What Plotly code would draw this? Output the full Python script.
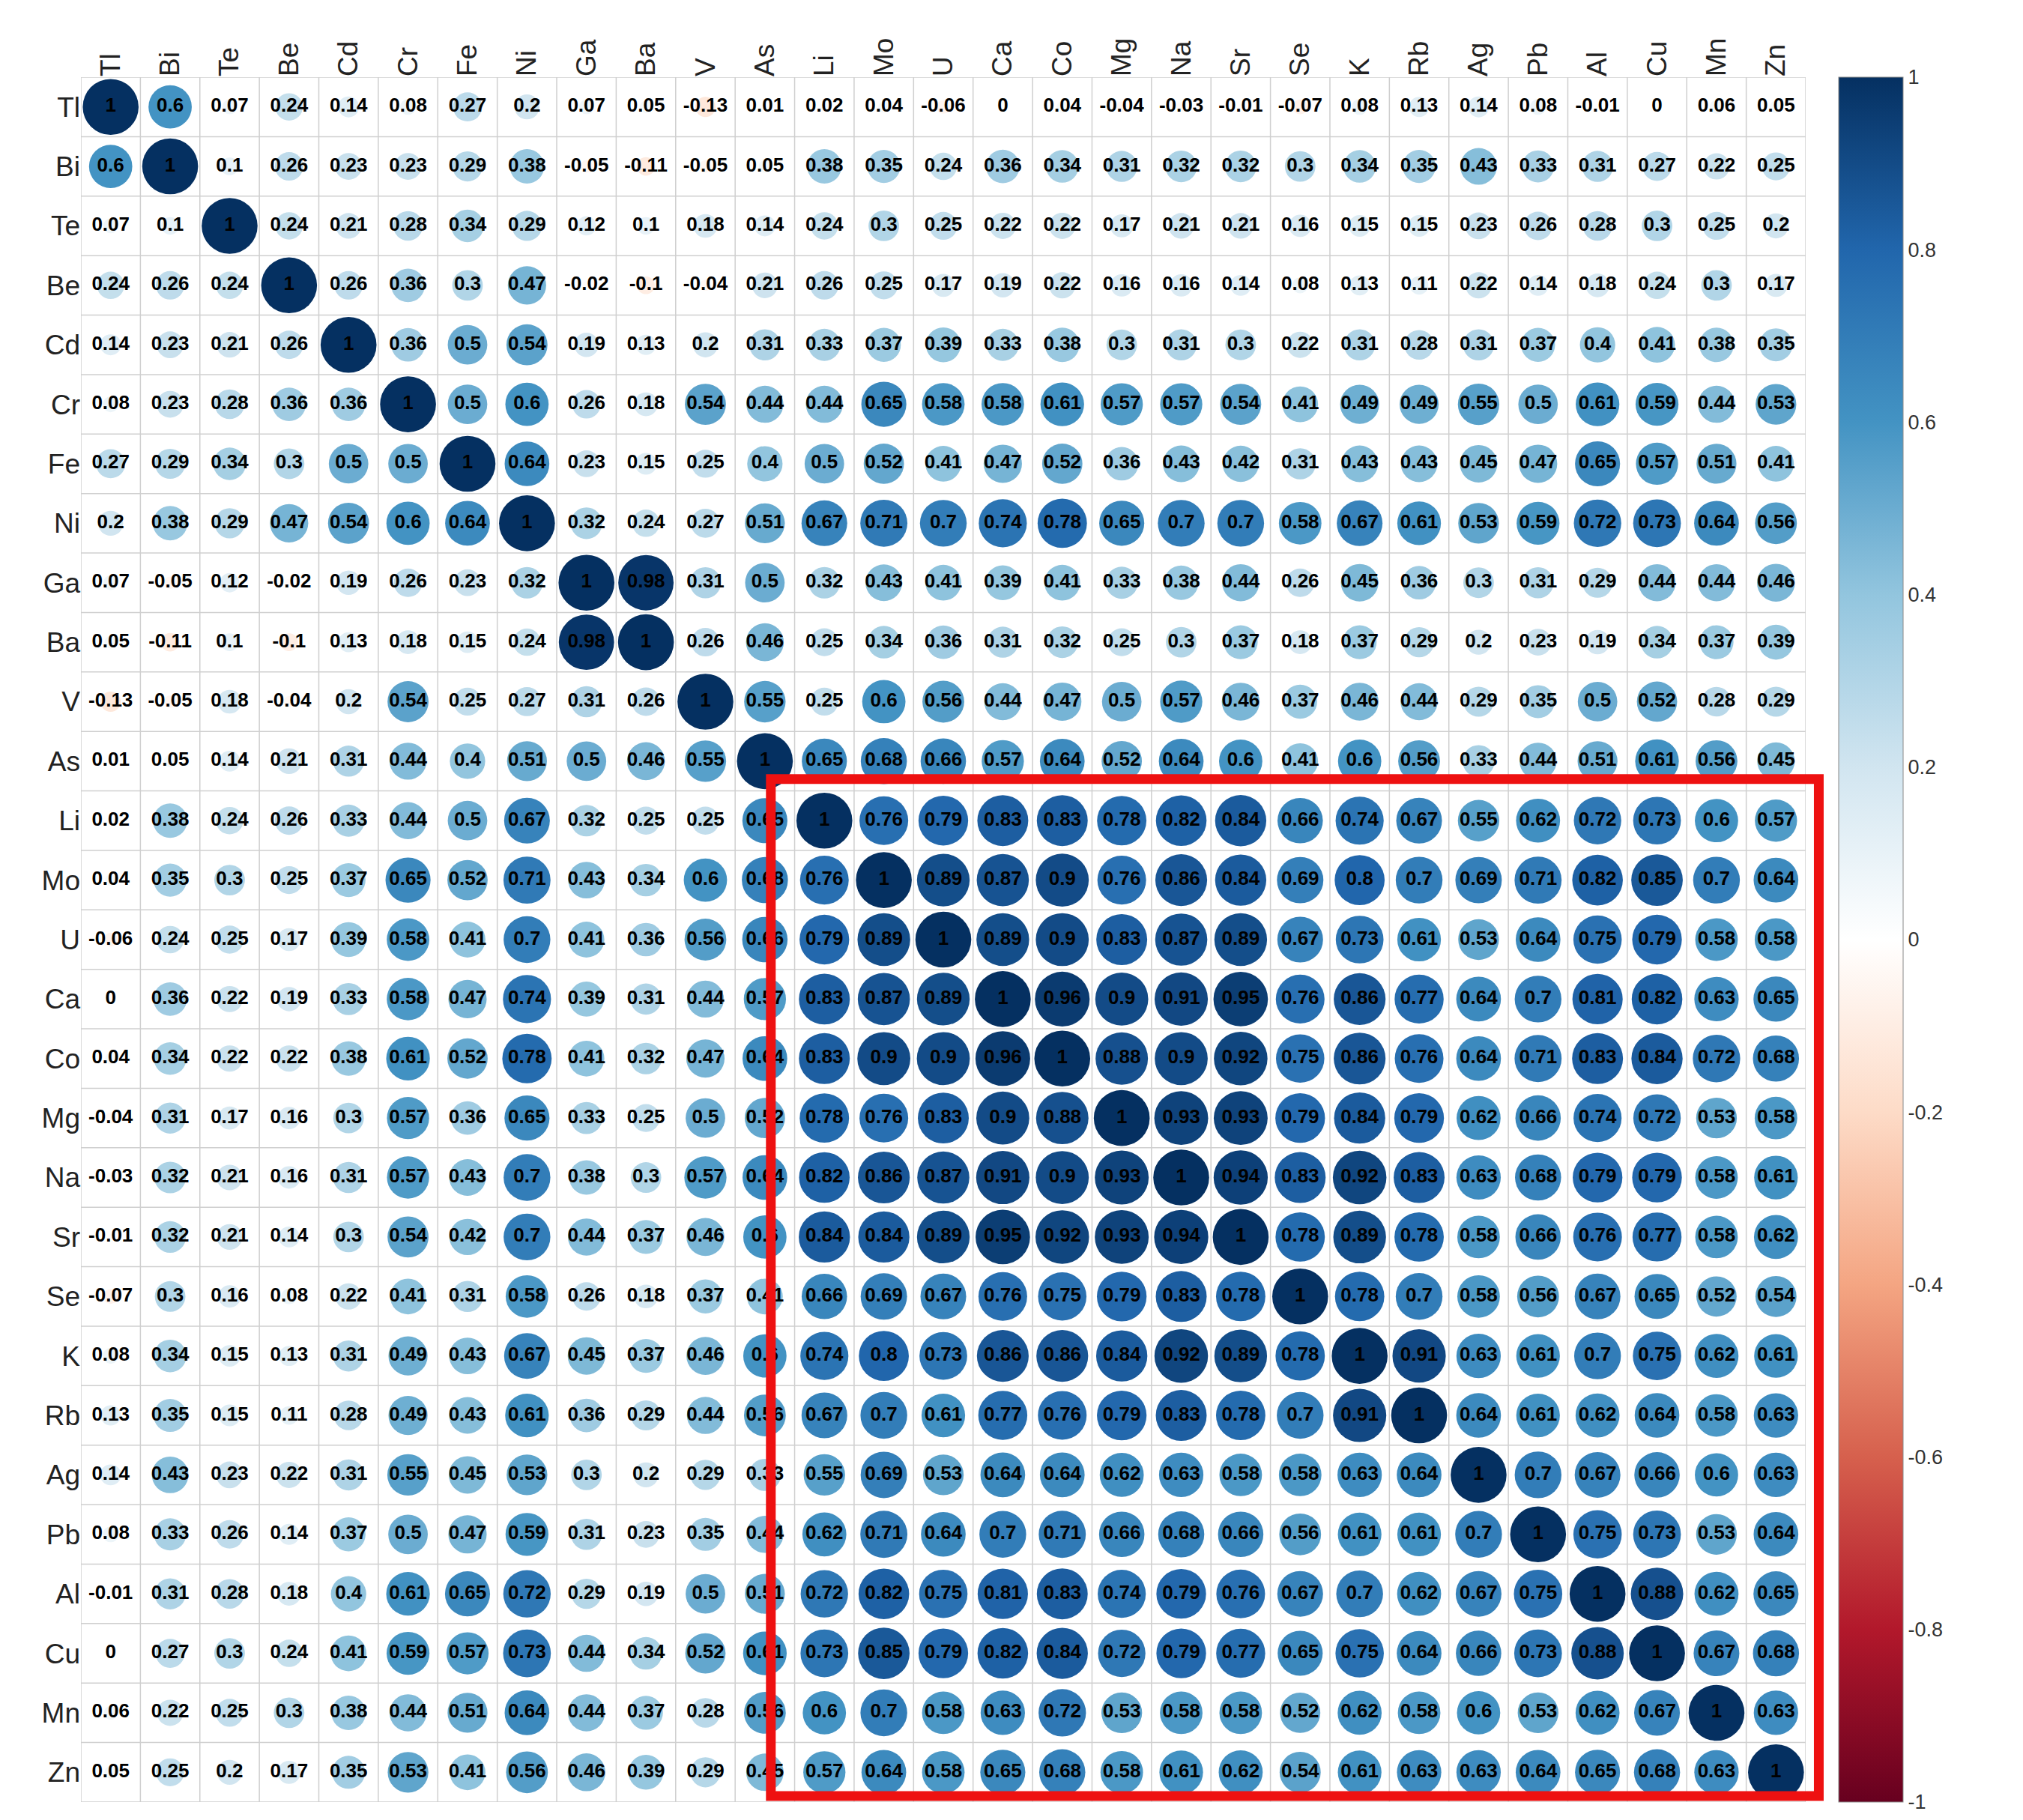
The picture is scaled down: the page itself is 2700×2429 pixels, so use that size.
import plotly.graph_objects as go

labels = ["Tl","Bi","Te","Be","Cd","Cr","Fe","Ni","Ga","Ba","V","As","Li","Mo","U","Ca","Co","Mg","Na","Sr","Se","K","Rb","Ag","Pb","Al","Cu","Mn","Zn"]

r_Tl = [1,0.6,0.07,0.24,0.14,0.08,0.27,0.2,0.07,0.05,-0.13,0.01,0.02,0.04,-0.06,0,0.04,-0.04,-0.03,-0.01,-0.07,0.08,0.13,0.14,0.08,-0.01,0,0.06,0.05]
r_Bi = [0.6,1,0.1,0.26,0.23,0.23,0.29,0.38,-0.05,-0.11,-0.05,0.05,0.38,0.35,0.24,0.36,0.34,0.31,0.32,0.32,0.3,0.34,0.35,0.43,0.33,0.31,0.27,0.22,0.25]
r_Te = [0.07,0.1,1,0.24,0.21,0.28,0.34,0.29,0.12,0.1,0.18,0.14,0.24,0.3,0.25,0.22,0.22,0.17,0.21,0.21,0.16,0.15,0.15,0.23,0.26,0.28,0.3,0.25,0.2]
r_Be = [0.24,0.26,0.24,1,0.26,0.36,0.3,0.47,-0.02,-0.1,-0.04,0.21,0.26,0.25,0.17,0.19,0.22,0.16,0.16,0.14,0.08,0.13,0.11,0.22,0.14,0.18,0.24,0.3,0.17]
r_Cd = [0.14,0.23,0.21,0.26,1,0.36,0.5,0.54,0.19,0.13,0.2,0.31,0.33,0.37,0.39,0.33,0.38,0.3,0.31,0.3,0.22,0.31,0.28,0.31,0.37,0.4,0.41,0.38,0.35]
r_Cr = [0.08,0.23,0.28,0.36,0.36,1,0.5,0.6,0.26,0.18,0.54,0.44,0.44,0.65,0.58,0.58,0.61,0.57,0.57,0.54,0.41,0.49,0.49,0.55,0.5,0.61,0.59,0.44,0.53]
r_Fe = [0.27,0.29,0.34,0.3,0.5,0.5,1,0.64,0.23,0.15,0.25,0.4,0.5,0.52,0.41,0.47,0.52,0.36,0.43,0.42,0.31,0.43,0.43,0.45,0.47,0.65,0.57,0.51,0.41]
r_Ni = [0.2,0.38,0.29,0.47,0.54,0.6,0.64,1,0.32,0.24,0.27,0.51,0.67,0.71,0.7,0.74,0.78,0.65,0.7,0.7,0.58,0.67,0.61,0.53,0.59,0.72,0.73,0.64,0.56]
r_Ga = [0.07,-0.05,0.12,-0.02,0.19,0.26,0.23,0.32,1,0.98,0.31,0.5,0.32,0.43,0.41,0.39,0.41,0.33,0.38,0.44,0.26,0.45,0.36,0.3,0.31,0.29,0.44,0.44,0.46]
r_Ba = [0.05,-0.11,0.1,-0.1,0.13,0.18,0.15,0.24,0.98,1,0.26,0.46,0.25,0.34,0.36,0.31,0.32,0.25,0.3,0.37,0.18,0.37,0.29,0.2,0.23,0.19,0.34,0.37,0.39]
r_V = [-0.13,-0.05,0.18,-0.04,0.2,0.54,0.25,0.27,0.31,0.26,1,0.55,0.25,0.6,0.56,0.44,0.47,0.5,0.57,0.46,0.37,0.46,0.44,0.29,0.35,0.5,0.52,0.28,0.29]
r_As = [0.01,0.05,0.14,0.21,0.31,0.44,0.4,0.51,0.5,0.46,0.55,1,0.65,0.68,0.66,0.57,0.64,0.52,0.64,0.6,0.41,0.6,0.56,0.33,0.44,0.51,0.61,0.56,0.45]
r_Li = [0.02,0.38,0.24,0.26,0.33,0.44,0.5,0.67,0.32,0.25,0.25,0.65,1,0.76,0.79,0.83,0.83,0.78,0.82,0.84,0.66,0.74,0.67,0.55,0.62,0.72,0.73,0.6,0.57]
r_Mo = [0.04,0.35,0.3,0.25,0.37,0.65,0.52,0.71,0.43,0.34,0.6,0.68,0.76,1,0.89,0.87,0.9,0.76,0.86,0.84,0.69,0.8,0.7,0.69,0.71,0.82,0.85,0.7,0.64]
r_U = [-0.06,0.24,0.25,0.17,0.39,0.58,0.41,0.7,0.41,0.36,0.56,0.66,0.79,0.89,1,0.89,0.9,0.83,0.87,0.89,0.67,0.73,0.61,0.53,0.64,0.75,0.79,0.58,0.58]
r_Ca = [0,0.36,0.22,0.19,0.33,0.58,0.47,0.74,0.39,0.31,0.44,0.57,0.83,0.87,0.89,1,0.96,0.9,0.91,0.95,0.76,0.86,0.77,0.64,0.7,0.81,0.82,0.63,0.65]
r_Co = [0.04,0.34,0.22,0.22,0.38,0.61,0.52,0.78,0.41,0.32,0.47,0.64,0.83,0.9,0.9,0.96,1,0.88,0.9,0.92,0.75,0.86,0.76,0.64,0.71,0.83,0.84,0.72,0.68]
r_Mg = [-0.04,0.31,0.17,0.16,0.3,0.57,0.36,0.65,0.33,0.25,0.5,0.52,0.78,0.76,0.83,0.9,0.88,1,0.93,0.93,0.79,0.84,0.79,0.62,0.66,0.74,0.72,0.53,0.58]
r_Na = [-0.03,0.32,0.21,0.16,0.31,0.57,0.43,0.7,0.38,0.3,0.57,0.64,0.82,0.86,0.87,0.91,0.9,0.93,1,0.94,0.83,0.92,0.83,0.63,0.68,0.79,0.79,0.58,0.61]
r_Sr = [-0.01,0.32,0.21,0.14,0.3,0.54,0.42,0.7,0.44,0.37,0.46,0.6,0.84,0.84,0.89,0.95,0.92,0.93,0.94,1,0.78,0.89,0.78,0.58,0.66,0.76,0.77,0.58,0.62]
r_Se = [-0.07,0.3,0.16,0.08,0.22,0.41,0.31,0.58,0.26,0.18,0.37,0.41,0.66,0.69,0.67,0.76,0.75,0.79,0.83,0.78,1,0.78,0.7,0.58,0.56,0.67,0.65,0.52,0.54]
r_K = [0.08,0.34,0.15,0.13,0.31,0.49,0.43,0.67,0.45,0.37,0.46,0.6,0.74,0.8,0.73,0.86,0.86,0.84,0.92,0.89,0.78,1,0.91,0.63,0.61,0.7,0.75,0.62,0.61]
r_Rb = [0.13,0.35,0.15,0.11,0.28,0.49,0.43,0.61,0.36,0.29,0.44,0.56,0.67,0.7,0.61,0.77,0.76,0.79,0.83,0.78,0.7,0.91,1,0.64,0.61,0.62,0.64,0.58,0.63]
r_Ag = [0.14,0.43,0.23,0.22,0.31,0.55,0.45,0.53,0.3,0.2,0.29,0.33,0.55,0.69,0.53,0.64,0.64,0.62,0.63,0.58,0.58,0.63,0.64,1,0.7,0.67,0.66,0.6,0.63]
r_Pb = [0.08,0.33,0.26,0.14,0.37,0.5,0.47,0.59,0.31,0.23,0.35,0.44,0.62,0.71,0.64,0.7,0.71,0.66,0.68,0.66,0.56,0.61,0.61,0.7,1,0.75,0.73,0.53,0.64]
r_Al = [-0.01,0.31,0.28,0.18,0.4,0.61,0.65,0.72,0.29,0.19,0.5,0.51,0.72,0.82,0.75,0.81,0.83,0.74,0.79,0.76,0.67,0.7,0.62,0.67,0.75,1,0.88,0.62,0.65]
r_Cu = [0,0.27,0.3,0.24,0.41,0.59,0.57,0.73,0.44,0.34,0.52,0.61,0.73,0.85,0.79,0.82,0.84,0.72,0.79,0.77,0.65,0.75,0.64,0.66,0.73,0.88,1,0.67,0.68]
r_Mn = [0.06,0.22,0.25,0.3,0.38,0.44,0.51,0.64,0.44,0.37,0.28,0.56,0.6,0.7,0.58,0.63,0.72,0.53,0.58,0.58,0.52,0.62,0.58,0.6,0.53,0.62,0.67,1,0.63]
r_Zn = [0.05,0.25,0.2,0.17,0.35,0.53,0.41,0.56,0.46,0.39,0.29,0.45,0.57,0.64,0.58,0.65,0.68,0.58,0.61,0.62,0.54,0.61,0.63,0.63,0.64,0.65,0.68,0.63,1]

rows = [r_Tl,r_Bi,r_Te,r_Be,r_Cd,r_Cr,r_Fe,r_Ni,r_Ga,r_Ba,r_V,r_As,r_Li,r_Mo,r_U,r_Ca,r_Co,r_Mg,r_Na,r_Sr,r_Se,r_K,r_Rb,r_Ag,r_Pb,r_Al,r_Cu,r_Mn,r_Zn]

colorbar_ticks = [1,0.8,0.6,0.4,0.2,0,-0.2,-0.4,-0.6,-0.8,-1]

cs = [[0.0,"#67001F"],[0.1,"#B2182B"],[0.2,"#D6604D"],[0.3,"#F4A582"],[0.4,"#FDDBC7"],
      [0.5,"#FFFFFF"],[0.6,"#D1E5F0"],[0.7,"#92C5DE"],[0.8,"#4393C3"],[0.9,"#2166AC"],[1.0,"#053061"]]

n = len(labels)
xs, ys, vs, sizes, txt = [], [], [], [], []
cell = 78.5
for i, row in enumerate(rows):
    for j, v in enumerate(row):
        xs.append(labels[j]); ys.append(labels[i]); vs.append(v)
        sizes.append(cell*0.95*abs(v)**0.5)
        txt.append(f"{v:g}")

fig = go.Figure()
fig.add_trace(go.Scatter(
    x=xs, y=ys, mode="markers+text", text=txt,
    textfont=dict(family="Liberation Sans, Arial", size=26, color="black", weight="bold"),
    marker=dict(size=sizes, color=vs, colorscale=cs, cmin=-1, cmax=1, opacity=1, line=dict(width=0),
                colorbar=dict(tickvals=colorbar_ticks, ticktext=[f"{t:g}" for t in colorbar_ticks],
                              len=1.0, y=0.5, yanchor="middle", thickness=86, x=1.019, xanchor="left",
                              outlinewidth=1, outlinecolor="#888", ticks="", ticklabelposition="outside",
                              tickfont=dict(family="Liberation Sans, Arial", size=27, color="#333"),
                              xpad=0, ypad=0)),
    hoverinfo="skip", showlegend=False))

def px_(idx):
    return (idx + 0.5) / n

shapes = []
for k in range(n+1):
    p = k - 0.5
    shapes.append(dict(type="line", x0=p, x1=p, y0=-0.5, y1=n-0.5, line=dict(color="#cfcfcf", width=1.5), layer="below"))
    shapes.append(dict(type="line", y0=p, y1=p, x0=-0.5, x1=n-0.5, line=dict(color="#cfcfcf", width=1.5), layer="below"))
shapes.append(dict(type="rect", xref="paper", yref="paper",
                   x0=px_(11.1), x1=px_(28.72), y0=1 - px_(28.4), y1=1 - px_(11.3),
                   line=dict(color="#ee1111", width=13)))

fig.update_layout(
    width=2700, height=2429, plot_bgcolor="white", paper_bgcolor="white",
    margin=dict(l=100, r=298, t=95, b=32), shapes=shapes,
    xaxis=dict(type="category", categoryorder="array", categoryarray=labels, side="top",
               range=[-0.5, n-0.5], tickangle=-90, showgrid=False, zeroline=False,
               tickfont=dict(family="Liberation Sans, Arial", size=37, color="#222")),
    yaxis=dict(type="category", categoryorder="array", categoryarray=labels,
               range=[n-0.5, -0.5], showgrid=False, zeroline=False,
               tickfont=dict(family="Liberation Sans, Arial", size=37, color="#222")),
)
fig.write_html("out.html")
